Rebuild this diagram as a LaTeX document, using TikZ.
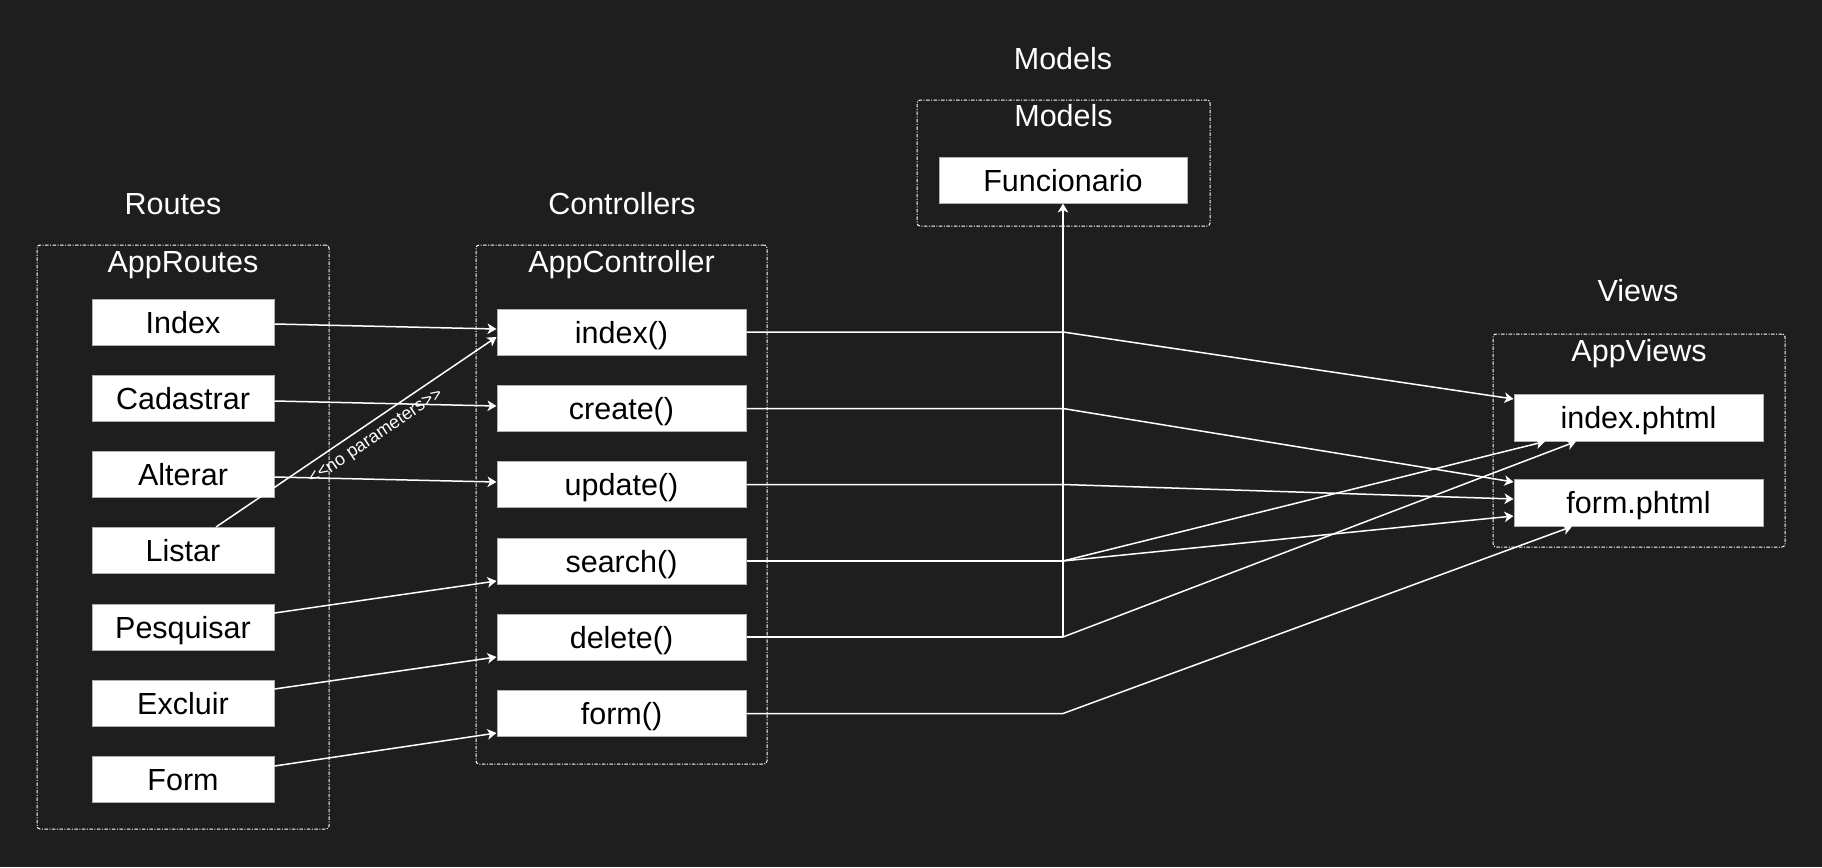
\documentclass[tikz,border=0pt]{standalone}
\usepackage{fontspec}
\setmainfont{Liberation Sans}
\usetikzlibrary{arrows.meta}
\definecolor{bgc}{HTML}{1E1E1E}
\definecolor{boxline}{HTML}{B0B0B0}
\begin{document}
\begin{tikzpicture}[x=1pt,y=-1pt,
  box/.style={draw=boxline, line width=1pt, fill=white, text=black, inner sep=0pt,
    text height=22pt, text depth=0pt, font=\fontsize{30.5}{34}\selectfont},
  rbox/.style={box, minimum width=182pt, minimum height=46pt},
  cbox/.style={box, minimum width=249pt, minimum height=46pt},
  vbox/.style={box, minimum width=249pt, minimum height=47pt},
  container/.style={draw=white, line width=1pt, rounded corners=3pt,
    dash pattern=on 3.5pt off 1.5pt on 1pt off 1.5pt, inner sep=0pt},
  ttl/.style={text=white, inner sep=0pt, text height=22pt, text depth=0pt,
    font=\fontsize{30.5}{34}\selectfont},
  conn/.style={draw=white, line width=1.5pt, -{Stealth[length=9pt,width=10.5pt,inset=2.5pt]}},
  seg/.style={draw=white, line width=1.5pt},
  lbl/.style={text=white, inner sep=2pt, font=\fontsize{18}{20}\selectfont}]
\useasboundingbox (0,0) rectangle (1822,867);
\fill[bgc] (0,0) rectangle (1822,867);

% containers
\node[container, minimum width=292pt, minimum height=584pt] (routesC) at (183,537) {};
\node[container, minimum width=291pt, minimum height=519pt] (ctrlC) at (621.5,504.5) {};
\node[container, minimum width=293pt, minimum height=126pt] (modelsC) at (1063.5,163) {};
\node[container, minimum width=292pt, minimum height=213pt] (viewsC) at (1639,440.5) {};

% titles
\node[ttl] (tRoutes) at (173,203.5) {Routes};
\node[ttl] (tCtrl) at (622,203.5) {Controllers};
\node[ttl] (tModels) at (1063,59) {Models};
\node[ttl] (tViews) at (1638,290.5) {Views};
\node[ttl] (lRoutes) at (183,261) {AppRoutes};
\node[ttl] (lCtrl) at (621.5,261) {AppController};
\node[ttl] (lModels) at (1063.5,115) {Models};
\node[ttl] (lViews) at (1639,350.5) {AppViews};

% route boxes
\node[rbox] (rIndex) at (183,322) {Index};
\node[rbox] (rCad) at (183,398) {Cadastrar};
\node[rbox] (rAlt) at (183,474.5) {Alterar};
\node[rbox] (rList) at (183,550.5) {Listar};
\node[rbox] (rPesq) at (183,627) {Pesquisar};
\node[rbox] (rExc) at (183,703.5) {Excluir};
\node[rbox] (rForm) at (183,779.5) {Form};

% controller boxes
\node[cbox] (cIndex) at (621.5,332) {index()};
\node[cbox] (cCreate) at (621.5,408.5) {create()};
\node[cbox] (cUpdate) at (621.5,484.5) {update()};
\node[cbox] (cSearch) at (621.5,561) {search()};
\node[cbox] (cDelete) at (621.5,637) {delete()};
\node[cbox] (cForm) at (621.5,713.5) {form()};

% model
\node[box, minimum width=248pt, minimum height=46pt] (mFunc) at (1063,180) {Funcionario};

% views
\node[vbox] (vIndex) at (1638.5,417.5) {index.phtml};
\node[vbox] (vForm) at (1638.5,502.5) {form.phtml};

% junctions
\coordinate (j1) at (1063,332);
\coordinate (j2) at (1063,408.5);
\coordinate (j3) at (1063,484.5);
\coordinate (j4) at (1063,561);
\coordinate (j5) at (1063,637);
\coordinate (j6) at (1063,713.5);

% routes -> controllers
\draw[conn] ([yshift=-2pt]rIndex.east) -- ([yshift=3pt]cIndex.west);
\draw[conn] ([yshift=-3pt]rCad.east) -- ([yshift=2.5pt]cCreate.west);
\draw[conn] ([yshift=-2.5pt]rAlt.east) -- ([yshift=2.5pt]cUpdate.west);
\draw[conn] ([xshift=33pt]rList.north) -- node[lbl, pos=0.54, sloped, below=5pt] {<\kern0pt<no parameters>\kern0pt>} ([yshift=-5pt]cIndex.west);
\draw[conn] ([yshift=14pt]rPesq.east) -- ([yshift=-20pt]cSearch.west);
\draw[conn] ([yshift=14.5pt]rExc.east) -- ([yshift=-20pt]cDelete.west);
\draw[conn] ([yshift=13.5pt]rForm.east) -- ([yshift=-19.5pt]cForm.west);

% controllers -> views / models
\draw[conn] (cIndex.east) -- (j1) -- ([yshift=18.5pt]vIndex.west);
\draw[conn] (cCreate.east) -- (j2) -- ([yshift=20.5pt]vForm.west);
\draw[conn] (cUpdate.east) -- (j3) -- ([yshift=3.5pt]vForm.west);
\draw[seg] (cSearch.east) -- (j4);
\draw[conn] (j4) -- ([xshift=-93.5pt]vIndex.south);
\draw[conn] (j4) -- ([yshift=-13.5pt]vForm.west);
\draw[seg] (cDelete.east) -- (j5);
\draw[conn] (j5) -- ([xshift=-62.5pt]vIndex.south);
\draw[conn] (j5) -- (mFunc.south);
\draw[conn] (cForm.east) -- (j6) -- ([xshift=-66.5pt]vForm.south);
\end{tikzpicture}
\end{document}
